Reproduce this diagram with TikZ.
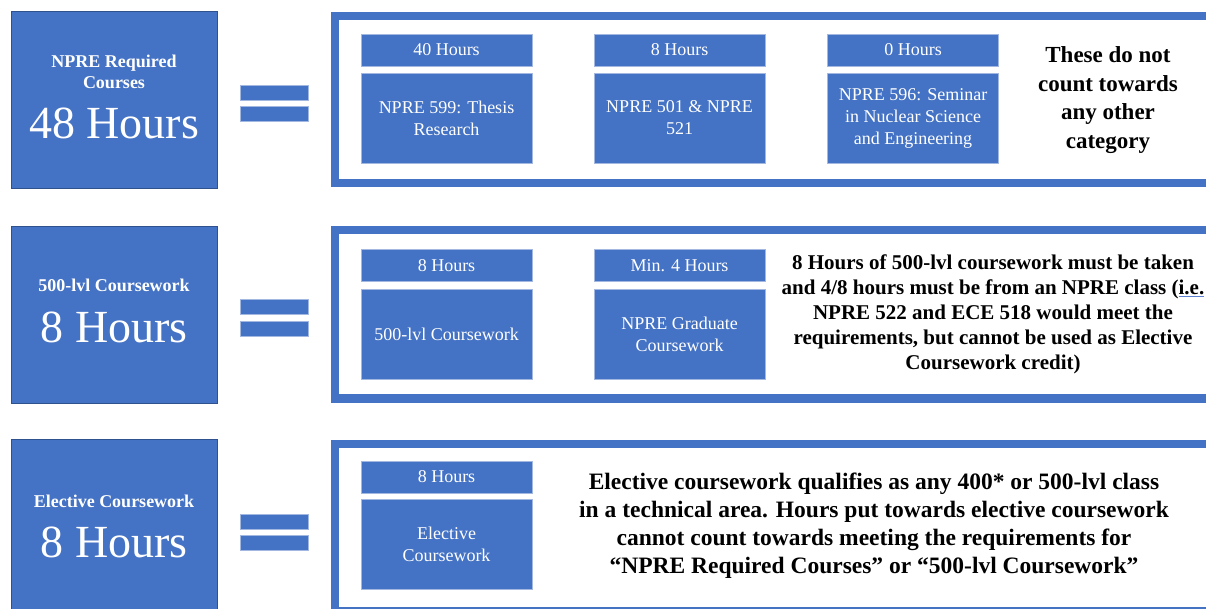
\documentclass[tikz,border=0pt]{standalone}
\usepackage{fontspec}
\setmainfont{LiberationSerif-Regular.ttf}[BoldFont=LiberationSerif-Bold.ttf]
\definecolor{ppblue}{HTML}{4472C4}
\definecolor{ppedge}{HTML}{2F528F}
\definecolor{pplight}{HTML}{A3B8E0}
\definecolor{spellblue}{HTML}{5B7FD0}
\newcommand{\spellmark}[1]{\setbox0=\hbox{#1}\rlap{\color{spellblue}\rule[-3pt]{\wd0}{1pt}}\box0}

\begin{document}
\begin{tikzpicture}[x=1pt,y=-1pt,
  bigbox/.style={fill=ppblue,draw=ppedge,line width=0.8pt,minimum width=206pt,minimum height=177pt,inner sep=0pt},
  bigtitle/.style={text=white,font=\fontsize{18}{21}\selectfont\bfseries,align=center,inner sep=0pt},
  bighours/.style={text=white,font=\fontsize{46}{50}\selectfont,inner sep=0pt,anchor=base},
  eqbar/.style={fill=ppblue,draw=pplight,line width=0.6pt,minimum width=68pt,minimum height=15pt,inner sep=0pt},
  hoursbox/.style={fill=ppblue,draw=pplight,line width=0.6pt,minimum width=171pt,minimum height=32pt,inner sep=0pt,text=white,font=\fontsize{18}{22}\selectfont,align=center},
  coursebox/.style={hoursbox,minimum height=90pt},
  rowframe/.style={draw=ppblue,line width=8.5pt},
  note/.style={font=\fontsize{21}{25}\selectfont\bfseries,align=center,inner sep=0pt}]
  \useasboundingbox (0,0) rectangle (1206,609);
  \clip (0,0) rectangle (1206,609);

  % left boxes
  \node[bigbox] (req) at (114,99.5) {};
  \node[bigtitle] (reqt) at (114,71.5) {NPRE Required\\Courses};
  \node[bighours] (reqh) at (114,139) {48 Hours};
  \node[bigbox] (lvl) at (114,314.5) {};
  \node[bigtitle,anchor=base] (lvlt) at (114,292) {500-lvl Coursework};
  \node[bighours] (lvlh) at (114,342) {8 Hours};
  \node[bigbox] (elec) at (114,527.5) {};
  \node[bigtitle,anchor=base] (elect) at (114,507) {Elective Coursework};
  \node[bighours] (elech) at (114,557) {8 Hours};

  % equal signs
  \node[eqbar] (reqa) at (274,92.5) {};
  \node[eqbar] (reqb) at (274,113.5) {};
  \node[eqbar] (lvla) at (274,307) {};
  \node[eqbar] (lvlb) at (274,328.5) {};
  \node[eqbar] (eleca) at (274,521.5) {};
  \node[eqbar] (elecb) at (274,542.5) {};

  % frames
  \draw[rowframe] (335,16) rectangle (1230,183);
  \draw[rowframe] (335,230) rectangle (1230,398.5);
  \draw[rowframe] (335,444) rectangle (1230,611.5);

  % row 1
  \node[hoursbox] (thesish) at (446.5,50) {40 Hours};
  \node[coursebox] (thesis) at (446.5,118) {NPRE 599: Thesis\\Research};
  \node[hoursbox] (coreh) at (679.5,50) {8 Hours};
  \node[coursebox] (core) at (679.5,118) {NPRE 501 \& NPRE\\521};
  \node[hoursbox] (semh) at (913,50) {0 Hours};
  \node[coursebox] (sem) at (913,118) {NPRE 596: Seminar\\in Nuclear Science\\and Engineering};
  \node[note,font=\fontsize{23}{28.5}\selectfont\bfseries] (reqnote) at (1108,100)
    {These do not\\count towards\\any other\\category};

  % row 2
  \node[hoursbox] (anyh) at (446.5,265.5) {8 Hours};
  \node[coursebox] (any) at (446.5,334) {500-lvl Coursework};
  \node[hoursbox] (gradh) at (679.5,265.5) {Min. 4 Hours};
  \node[coursebox] (grad) at (679.5,334) {NPRE Graduate\\Coursework};
  \node[note] (lvlnote) at (993,314)
    {8 Hours of 500-lvl coursework must be taken\\
     and 4/8 hours must be from an NPRE class (\spellmark{i.e.}\\
     NPRE 522 and ECE 518 would meet the\\
     requirements, but cannot be used as Elective\\
     Coursework credit)};

  % row 3
  \node[hoursbox] (optionh) at (446.5,477) {8 Hours};
  \node[coursebox] (option) at (446.5,544.5) {Elective\\Coursework};
  \node[note,font=\fontsize{23.5}{28}\selectfont\bfseries] (elecnote) at (874,526)
    {Elective coursework qualifies as any 400* or 500-lvl class\\
     in a technical area. Hours put towards elective coursework\\
     cannot count towards meeting the requirements for\\
     “NPRE Required Courses” or “500-lvl Coursework”};
\end{tikzpicture}
\end{document}
